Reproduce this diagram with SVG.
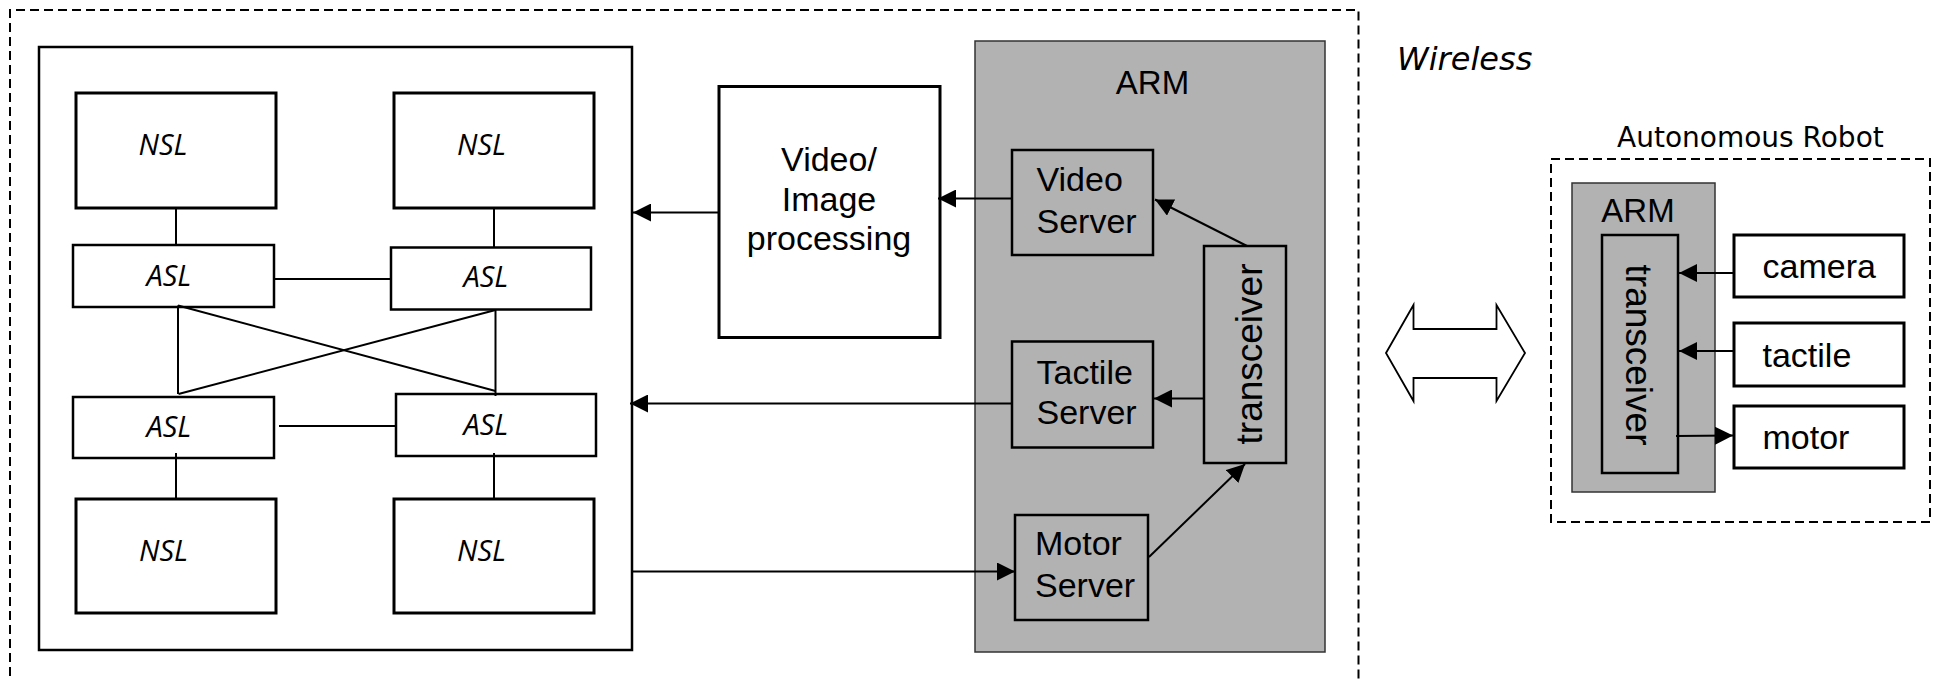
<svg xmlns="http://www.w3.org/2000/svg" width="1939" height="681" viewBox="0 0 1939 681">
  <style>
    .box { fill: #ffffff; stroke: #000000; stroke-width: 2.5; }
    .thick { stroke-width: 3; }
    .gray { fill: #b2b2b2; stroke: #333333; stroke-width: 1.5; }
    .gbox { fill: #b2b2b2; stroke: #000000; stroke-width: 2.5; }
    .dash { fill: none; stroke: #000000; stroke-width: 2; stroke-dasharray: 9 5; }
    .ln { fill: none; stroke: #000000; stroke-width: 2; }
    .arr { fill: none; stroke: #000000; stroke-width: 2; marker-end: url(#head); }
    .it { font-family: "Open Sans", "DejaVu Sans", sans-serif; font-style: italic; font-size: 29px; fill: #000; }
    .sans { font-family: "Liberation Sans", Arial, sans-serif; font-size: 34px; fill: #000; }
    .mid { text-anchor: middle; }
  </style>
  <defs>
    <marker id="head" markerUnits="userSpaceOnUse" markerWidth="19" markerHeight="18" refX="18" refY="9" orient="auto">
      <path d="M0,0 L18,9 L0,18 z" fill="#000000"/>
    </marker>
  </defs>

  <!-- host side enclosure -->
  <path class="dash" d="M10,690 V10 H1358.5 V690"/>

  <!-- neural network panel -->
  <g id="network">
    <rect class="box" x="39" y="47" width="593" height="603"/>
  </g>
  <g id="nsl-1"><rect class="box thick" x="76" y="93" width="200" height="115"/><text class="it" x="138.5" y="155">NSL</text></g>
  <g id="nsl-2"><rect class="box thick" x="394" y="93" width="200" height="115"/><text class="it" x="457" y="155">NSL</text></g>
  <g id="asl-1"><rect class="box" x="73" y="245" width="201" height="62"/><text class="it" x="146.5" y="285.5">ASL</text></g>
  <g id="asl-2"><rect class="box" x="391" y="247.5" width="200" height="62"/><text class="it" x="463.5" y="287">ASL</text></g>
  <g id="asl-3"><rect class="box" x="73" y="397" width="201" height="61"/><text class="it" x="146.5" y="437">ASL</text></g>
  <g id="asl-4"><rect class="box" x="396" y="394" width="200" height="62"/><text class="it" x="463.5" y="434.5">ASL</text></g>
  <g id="nsl-3"><rect class="box thick" x="76" y="499" width="200" height="114"/><text class="it" x="139" y="560.5">NSL</text></g>
  <g id="nsl-4"><rect class="box thick" x="394" y="499" width="200" height="114"/><text class="it" x="457" y="560.5">NSL</text></g>

  <!-- image processing -->
  <g id="video-image">
    <rect class="box thick" x="719" y="86.5" width="221" height="251"/>
    <text class="sans mid" x="829" y="170.5">Video/</text>
    <text class="sans mid" x="829" y="211">Image</text>
    <text class="sans mid" x="829" y="249.5">processing</text>
  </g>

  <!-- host ARM board -->
  <g id="arm-host">
    <rect class="gray" x="975" y="41" width="350" height="611"/>
    <text class="sans mid" x="1152.5" y="93.5" style="font-size:33px">ARM</text>
  </g>
  <g id="video-server">
    <rect class="gbox" x="1012" y="150" width="141" height="105"/>
    <text class="sans" x="1036.5" y="191">Video</text>
    <text class="sans" x="1036.5" y="232.5">Server</text>
  </g>
  <g id="tactile-server">
    <rect class="gbox" x="1012" y="341.5" width="141" height="106"/>
    <text class="sans" x="1036.5" y="383.5">Tactile</text>
    <text class="sans" x="1036.5" y="423.5">Server</text>
  </g>
  <g id="motor-server">
    <rect class="gbox" x="1015" y="515" width="133" height="105"/>
    <text class="sans" x="1035" y="555">Motor</text>
    <text class="sans" x="1035" y="596.5">Server</text>
  </g>
  <g id="transceiver-host">
    <rect class="gbox" x="1204" y="246" width="82" height="217"/>
    <text class="sans mid" transform="translate(1261.5,354) rotate(-90)" style="font-size:37px">transceiver</text>
  </g>

  <!-- wireless link -->
  <text x="1397" y="70" style="font-family:'DejaVu Sans',Verdana,sans-serif;font-style:italic;font-size:32px">Wireless</text>
  <g id="wireless-link">
    <polygon points="1386,353 1413.5,305 1413.5,329 1496.5,329 1496.5,305 1525,353 1496.5,401 1496.5,378 1413.5,378 1413.5,401" fill="#ffffff" stroke="#000000" stroke-width="1.8" stroke-linejoin="miter"/>
  </g>

  <!-- robot -->
  <g id="robot">
    <text x="1617" y="147" style="font-family:'DejaVu Sans',Verdana,sans-serif;font-size:28px">Autonomous Robot</text>
    <rect class="dash" x="1551" y="159" width="379" height="363"/>
  </g>
  <g id="arm-robot">
    <rect class="gray" x="1572" y="183" width="143" height="309"/>
    <text class="sans mid" x="1638" y="222" style="font-size:33px">ARM</text>
  </g>
  <g id="transceiver-robot">
    <rect class="gbox" x="1602" y="235" width="76" height="238"/>
    <text class="sans mid" transform="translate(1626,355) rotate(90)" style="font-size:37px">transceiver</text>
  </g>
  <g id="camera"><rect class="box thick" x="1734" y="235" width="170" height="62"/><text class="sans" x="1762.5" y="278">camera</text></g>
  <g id="tactile"><rect class="box thick" x="1734" y="323" width="170" height="63"/><text class="sans" x="1762.5" y="367">tactile</text></g>
  <g id="motor"><rect class="box thick" x="1734" y="406" width="170" height="62"/><text class="sans" x="1762.5" y="449">motor</text></g>

  <g id="connectors">
    <!-- inside the network panel -->
    <line class="ln" x1="176" y1="208" x2="176" y2="245"/>
    <line class="ln" x1="494" y1="208" x2="494" y2="247.5"/>
    <line class="ln" x1="274" y1="279" x2="391" y2="279"/>
    <line class="ln" x1="279" y1="426" x2="396" y2="426"/>
    <line class="ln" x1="176" y1="453" x2="176" y2="499"/>
    <line class="ln" x1="494" y1="453" x2="494" y2="499"/>
    <line class="ln" x1="178" y1="305.5" x2="178" y2="394"/>
    <line class="ln" x1="495.5" y1="310" x2="495.5" y2="396"/>
    <line class="ln" x1="178" y1="305.5" x2="495.5" y2="391"/>
    <line class="ln" x1="178.5" y1="394" x2="495.5" y2="310"/>
    <!-- host data paths -->
    <line class="arr" x1="719" y1="212.5" x2="633" y2="212.5"/>
    <line class="arr" x1="1012" y1="403.5" x2="630" y2="403.5"/>
    <line class="arr" x1="632" y1="571.5" x2="1015" y2="571.5"/>
    <line class="arr" x1="1012" y1="198.5" x2="938" y2="198.5"/>
    <line class="arr" x1="1247" y1="246" x2="1155" y2="199.5"/>
    <line class="arr" x1="1204" y1="398.5" x2="1154" y2="398.5"/>
    <line class="arr" x1="1149" y1="557" x2="1245" y2="464"/>
    <!-- robot data paths -->
    <line class="arr" x1="1734" y1="273" x2="1679" y2="273"/>
    <line class="arr" x1="1734" y1="351" x2="1679" y2="351"/>
    <line class="arr" x1="1676" y1="436" x2="1733" y2="435.5"/>
  </g>
</svg>
